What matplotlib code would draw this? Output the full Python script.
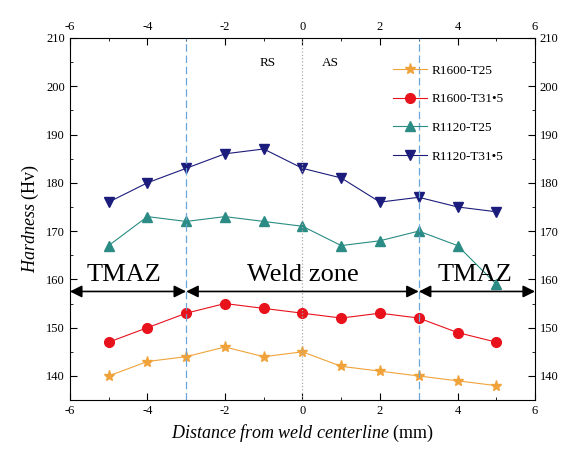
import numpy as np
import matplotlib.pyplot as plt

plt.rcParams['font.family'] = ['Liberation Serif', 'DejaVu Serif']
plt.rcParams['mathtext.fontset'] = 'custom'
plt.rcParams['mathtext.rm'] = 'Liberation Serif'
plt.rcParams['mathtext.it'] = 'Liberation Serif:italic'
plt.rcParams['axes.unicode_minus'] = False

x = [-5, -4, -3, -2, -1, 0, 1, 2, 3, 4, 5]
r1600_t25 = [140, 143, 144, 146, 144, 145, 142, 141, 140, 139, 138]
r1600_t315 = [147, 150, 153, 155, 154, 153, 152, 153, 152, 149, 147]
r1120_t25 = [167, 173, 172, 173, 172, 171, 167, 168, 170, 167, 159]
r1120_t315 = [176, 180, 183, 186, 187, 183, 181, 176, 177, 175, 174]

labels = ["R1600-T25", "R1600-T31\u20225", "R1120-T25", "R1120-T31\u20225"]
series = [r1600_t25, r1600_t315, r1120_t25, r1120_t315]
colors = ["#f0a33a", "#e8121c", "#2a8c84", "#1c1c7c"]
markers = ["*", "o", "^", "v"]
msizes = [8, 7, 7, 7]

fig = plt.figure(figsize=(5.68, 4.68), dpi=100)
ax = fig.add_axes([0.123, 0.145, 0.819, 0.774])

for y, lab, c, m, ms in zip(series, labels, colors, markers, msizes):
    ax.plot(x, y, color=c, marker=m, markersize=ms, linewidth=0.8, label=lab)

ax.axvline(-3, color="#6aa6d8", linestyle=(0, (6, 3)), linewidth=0.9)
ax.axvline(3, color="#6aa6d8", linestyle=(0, (6, 3)), linewidth=0.9)
ax.axvline(0, color="#aaaaaa", linestyle=":", linewidth=0.9)

ax.text(-0.9, 204.8, "RS", ha="center", va="center", fontsize=9.5)
ax.text(0.72, 204.8, "AS", ha="center", va="center", fontsize=9.5)

# zone arrows
for x0, x1 in [(-6, -3), (-3, 3), (3, 6)]:
    ax.annotate("", xy=(x0, 157.5), xytext=(x1, 157.5),
                arrowprops=dict(arrowstyle="<|-|>", color="black", lw=1.2,
                                mutation_scale=18, shrinkA=0, shrinkB=0))
ax.text(-4.6, 158.6, "TMAZ", ha="center", va="bottom", fontsize=19)
ax.text(0, 158.6, "Weld zone", ha="center", va="bottom", fontsize=19)
ax.text(4.45, 158.6, "TMAZ", ha="center", va="bottom", fontsize=19)

ax.set_xlim(-6, 6)
ax.set_ylim(135, 210)
ax.set_xticks([-6, -4, -2, 0, 2, 4, 6])
ax.set_xticks(np.arange(-5, 6, 2), minor=True)
ax.set_yticks(np.arange(140, 211, 10))
ax.set_yticks(np.arange(135, 210, 10), minor=True)
ax.tick_params(which="both", direction="in", top=True, right=True,
               labeltop=True, labelright=True, labelsize=9)
ax.tick_params(which="major", length=5)
ax.tick_params(which="minor", length=2.5)

ax.set_xlabel(r"$\it{Distance\ from\ weld\ centerline}$ (mm)", fontsize=13)
ax.set_ylabel(r"$\it{Hardness}$ (Hv)", fontsize=13)

leg = ax.legend(loc="upper left", bbox_to_anchor=(0.695, 0.927), frameon=False,
                fontsize=9.5, handlelength=2.6, handletextpad=0.3,
                labelspacing=1.25, borderpad=0, borderaxespad=0)

fig.savefig("out.png", dpi=100)
